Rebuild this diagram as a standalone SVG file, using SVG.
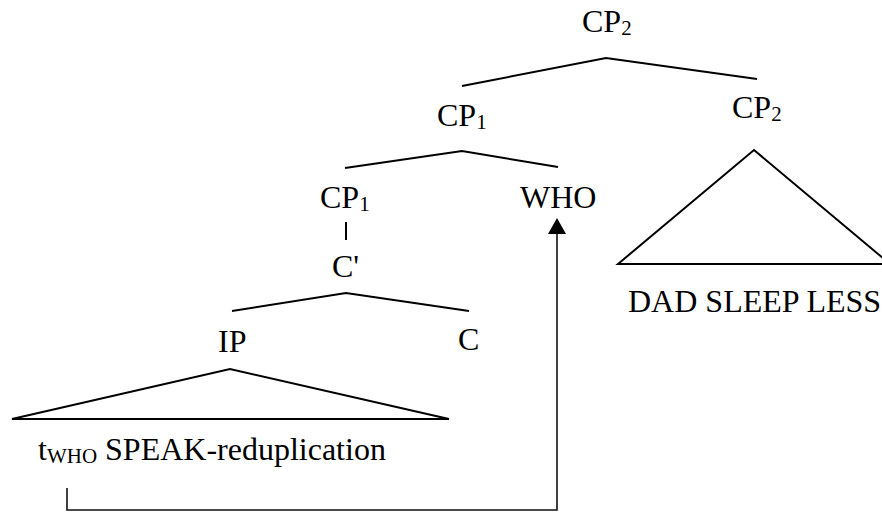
<svg xmlns="http://www.w3.org/2000/svg" width="882" height="512" viewBox="0 0 882 512">
<style>
text{font-family:"Liberation Serif","Times New Roman",serif;font-size:32px;fill:#000}
.sub{font-size:21px}
.e{stroke:#000;stroke-width:2;fill:none;stroke-linejoin:miter}
.mv{stroke:#111;stroke-width:1.6;fill:none}
</style>
<defs>
<marker id="ah" markerWidth="10" markerHeight="10" refX="5" refY="1" orient="auto" markerUnits="userSpaceOnUse" viewBox="0 0 10 10">
<path d="M0,0 L10,0 L5,0 Z" fill="#000"/>
</marker>
</defs>
<rect width="882" height="512" fill="#fff"/>
<g id="edges">
<path class="e" d="M462,86 L606,58 L757,79"/>
<path class="e" d="M345,168 L462,151 L558,167"/>
<path class="e" d="M346,222 L346,240"/>
<path class="e" d="M232,311 L346,293 L469,311"/>
<path class="e" d="M618,264 L754,150 L890,264 Z"/>
<path class="e" d="M12,419 L230,369 L449,419 Z"/>
</g>
<g id="movement">
<path class="mv" d="M67,488 L67,510 L557,510 L557,232"/>
<path d="M548,234 L557,218 L566,234 Z" fill="#000"/>
</g>
<g id="cp2-top"><text x="582" y="32">CP<tspan class="sub" dy="3">2</tspan></text></g>
<g id="cp1-mid"><text x="437" y="126">CP<tspan class="sub" dy="3">1</tspan></text></g>
<g id="cp2-right"><text x="732" y="118">CP<tspan class="sub" dy="3">2</tspan></text></g>
<g id="cp1-low"><text x="320" y="208">CP<tspan class="sub" dy="3">1</tspan></text></g>
<g id="who"><text x="520" y="208">WHO</text></g>
<g id="cbar"><text x="332" y="277">C'</text></g>
<g id="ip"><text x="218" y="352">IP</text></g>
<g id="c"><text x="458" y="350">C</text></g>
<g id="ip-content"><text x="38" y="460">t<tspan class="sub" dy="3">WHO</tspan><tspan dy="-3"> SPEAK-reduplication</tspan></text></g>
<g id="cp2-content"><text x="628" y="312">DAD SLEEP LESS</text></g>
</svg>
